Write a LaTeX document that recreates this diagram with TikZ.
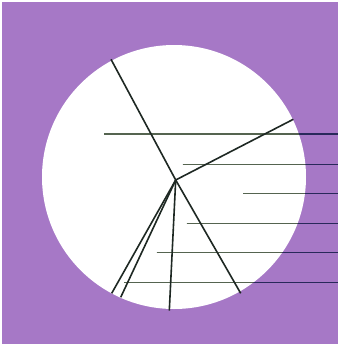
\documentclass[tikz,border=0pt]{standalone}
\usepackage{tikz}
\definecolor{bgpurple}{RGB}{166,120,198}
\definecolor{spokecol}{RGB}{30,40,35}
\definecolor{leadin}{RGB}{85,100,80}
\definecolor{leadout}{RGB}{40,40,90}
\tikzset{
  spoke/.style={draw=spokecol, line width=1.6pt},
  leaderout/.style={draw=leadout, line width=1.2pt},
  leaderin/.style={draw=leadin, line width=1.1pt},
}
\begin{document}
\begin{tikzpicture}[x=1pt,y=-1pt]
\useasboundingbox (0,0) rectangle (338,346);
\fill[white] (0,0) rectangle (338,346);
\fill[bgpurple] (2,2) rectangle (338,344);
\fill[white] (174,177) circle (132);
% hub and endpoints
\coordinate (hub) at (175.7,180);
\coordinate (s1) at (111,59.3);
\coordinate (s2) at (293.3,119.3);
\coordinate (s3) at (240.7,293.3);
\coordinate (s4) at (169.3,310.7);
\coordinate (s5) at (120.7,297.3);
\coordinate (s6) at (111.7,293.3);
% leader lines
\coordinate (a1) at (104,134);   \coordinate (b1) at (338,134);
\coordinate (a2) at (182.7,164.3); \coordinate (b2) at (338,164.3);
\coordinate (a3) at (243.3,193.3); \coordinate (b3) at (338,193.3);
\coordinate (a4) at (186.7,223.3); \coordinate (b4) at (338,223.3);
\coordinate (a5) at (156.7,252.3); \coordinate (b5) at (338,252.3);
\coordinate (a6) at (124,282.3);   \coordinate (b6) at (338,282.3);
\foreach \i in {1,...,6} { \draw[leaderout] (a\i) -- (b\i); }
\begin{scope}
  \clip (174,177) circle (132);
  \foreach \i in {1,...,6} { \draw[leaderin] (a\i) -- (b\i); }
\end{scope}
\foreach \i in {1,...,6} { \draw[spoke] (hub) -- (s\i); }
\end{tikzpicture}
\end{document}
